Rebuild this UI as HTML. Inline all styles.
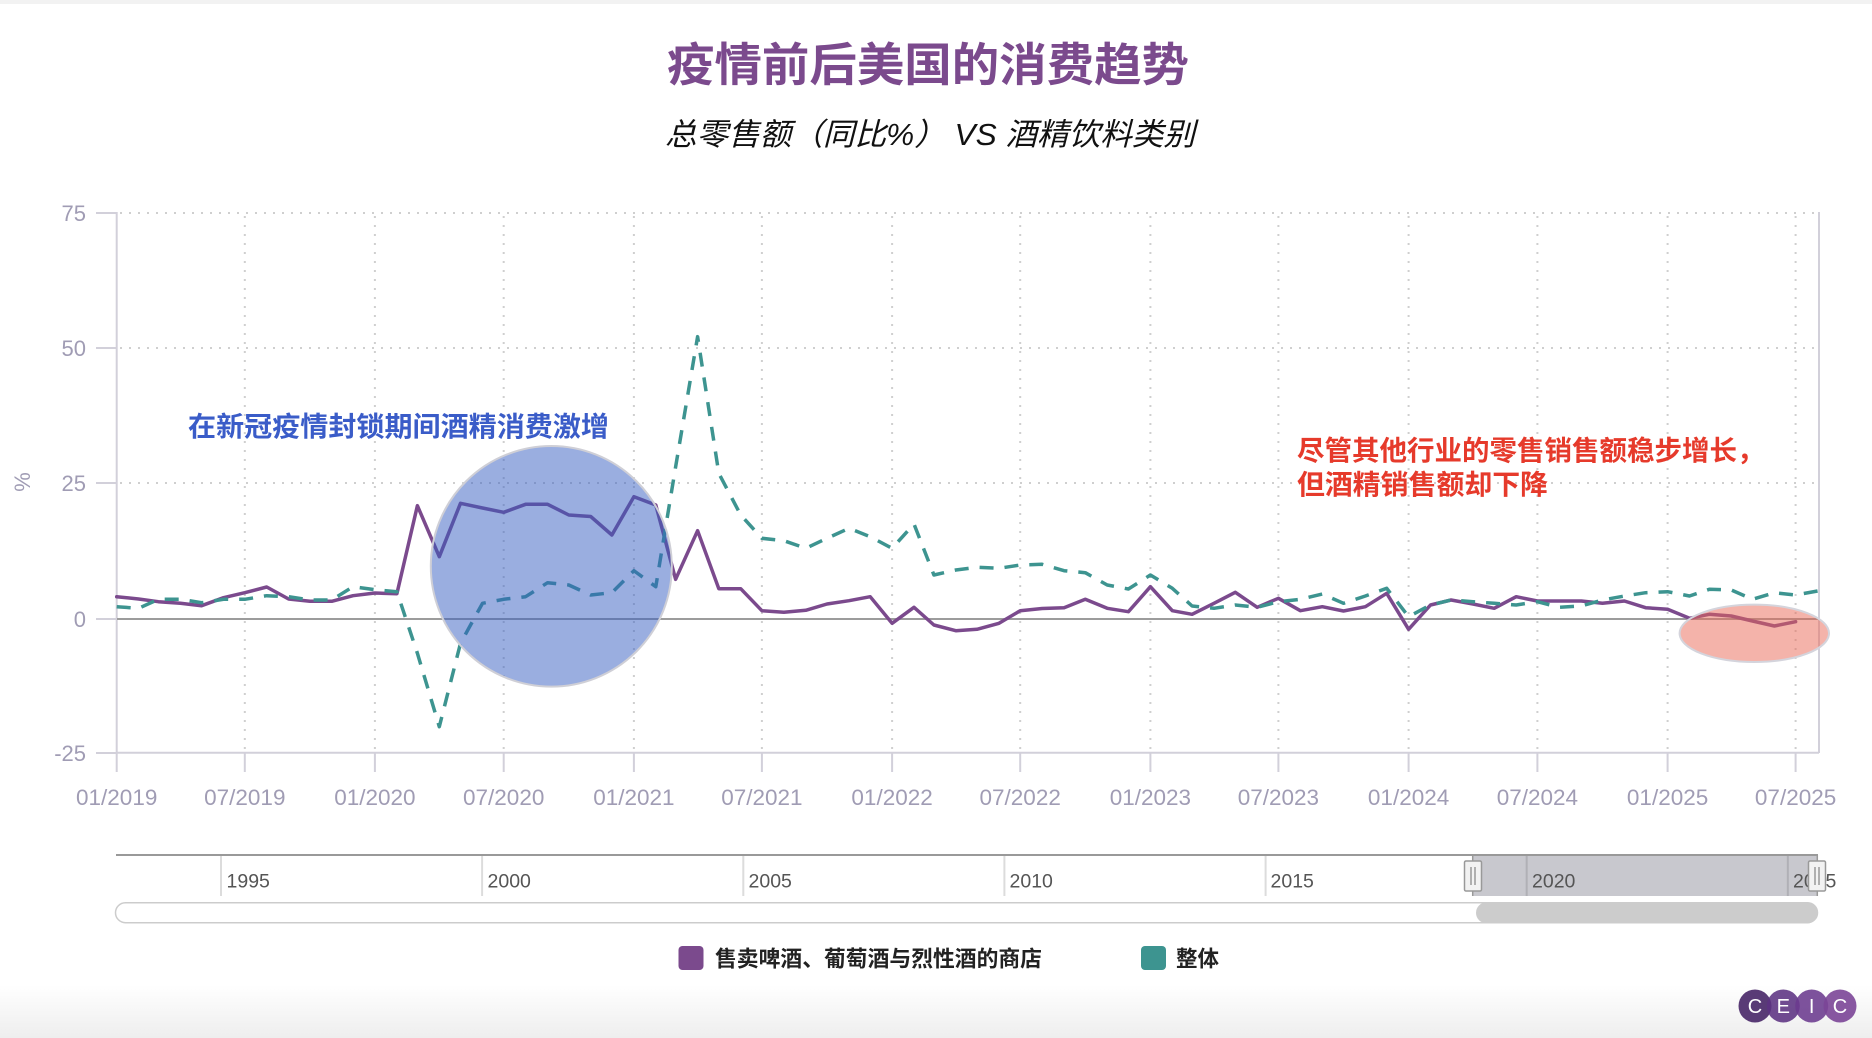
<!DOCTYPE html>
<html>
<head>
<meta charset="utf-8">
<style>
  html,body{margin:0;padding:0;background:#fff;}
  body{width:1872px;height:1038px;overflow:hidden;}
  svg{display:block;}
  .cjk{font-family:"Liberation Sans","Noto Sans CJK SC","WenQuanYi Zen Hei",sans-serif;}
  .lat{font-family:"Liberation Sans",sans-serif;}
</style>
</head>
<body>
<svg width="1872" height="1038" viewBox="0 0 1872 1038" xmlns="http://www.w3.org/2000/svg">
  <defs>
    <linearGradient id="bot" x1="0" y1="0" x2="0" y2="1">
      <stop offset="0" stop-color="#ffffff"/>
      <stop offset="1" stop-color="#eeeeee"/>
    </linearGradient>
  </defs>
  <rect x="0" y="0" width="1872" height="1038" fill="#fff"/>
  <rect x="0" y="0" width="1872" height="4" fill="#f2f2f2"/>
  <rect x="0" y="985" width="1872" height="53" fill="url(#bot)"/>

  <!-- Titles -->
  <text class="cjk" x="667" y="81" font-size="46" font-weight="bold" fill="#7b4a8d" textLength="522" lengthAdjust="spacingAndGlyphs">疫情前后美国的消费趋势</text>
  <text class="cjk" x="665" y="145" font-size="31" font-style="italic" fill="#111" textLength="530" lengthAdjust="spacingAndGlyphs">总零售额（同比%） VS 酒精饮料类别</text>

  <!-- Grid horizontal dotted -->
  <g stroke="#cfcfcf" stroke-width="2" stroke-dasharray="2 7" fill="none">
    <line x1="120" y1="213" x2="1819" y2="213"/>
    <line x1="120" y1="348" x2="1819" y2="348"/>
    <line x1="120" y1="483" x2="1819" y2="483"/>
  </g>
  <!-- Grid vertical dotted -->
  <g stroke="#cfcfcf" stroke-width="2" stroke-dasharray="2 7" fill="none">
    <line x1="244.8" y1="216" x2="244.8" y2="752"/>
    <line x1="374.9" y1="216" x2="374.9" y2="752"/>
    <line x1="503.7" y1="216" x2="503.7" y2="752"/>
    <line x1="633.9" y1="216" x2="633.9" y2="752"/>
    <line x1="761.9" y1="216" x2="761.9" y2="752"/>
    <line x1="892.1" y1="216" x2="892.1" y2="752"/>
    <line x1="1020.2" y1="216" x2="1020.2" y2="752"/>
    <line x1="1150.4" y1="216" x2="1150.4" y2="752"/>
    <line x1="1278.4" y1="216" x2="1278.4" y2="752"/>
    <line x1="1408.6" y1="216" x2="1408.6" y2="752"/>
    <line x1="1537.4" y1="216" x2="1537.4" y2="752"/>
    <line x1="1667.6" y1="216" x2="1667.6" y2="752"/>
    <line x1="1795.6" y1="216" x2="1795.6" y2="752"/>
  </g>

  <!-- Axes -->
  <g stroke="#d2d0da" stroke-width="2" fill="none">
    <line x1="116.7" y1="212" x2="116.7" y2="772"/>
    <line x1="1819" y1="212" x2="1819" y2="753"/>
    <line x1="116" y1="752.7" x2="1819" y2="752.7"/>
    <line x1="96" y1="213" x2="117" y2="213"/>
    <line x1="96" y1="348" x2="117" y2="348"/>
    <line x1="96" y1="483" x2="117" y2="483"/>
    <line x1="96" y1="619" x2="117" y2="619"/>
    <line x1="96" y1="753" x2="117" y2="753"/>
    <line x1="244.8" y1="752" x2="244.8" y2="772"/>
    <line x1="374.9" y1="752" x2="374.9" y2="772"/>
    <line x1="503.7" y1="752" x2="503.7" y2="772"/>
    <line x1="633.9" y1="752" x2="633.9" y2="772"/>
    <line x1="761.9" y1="752" x2="761.9" y2="772"/>
    <line x1="892.1" y1="752" x2="892.1" y2="772"/>
    <line x1="1020.2" y1="752" x2="1020.2" y2="772"/>
    <line x1="1150.4" y1="752" x2="1150.4" y2="772"/>
    <line x1="1278.4" y1="752" x2="1278.4" y2="772"/>
    <line x1="1408.6" y1="752" x2="1408.6" y2="772"/>
    <line x1="1537.4" y1="752" x2="1537.4" y2="772"/>
    <line x1="1667.6" y1="752" x2="1667.6" y2="772"/>
    <line x1="1795.6" y1="752" x2="1795.6" y2="772"/>
  </g>
  <!-- zero line -->
  <line x1="117" y1="619" x2="1819" y2="619" stroke="#9c9c9c" stroke-width="2"/>

  <!-- Y labels -->
  <g class="lat" font-size="22" fill="#a09cb4" text-anchor="end">
    <text x="86" y="221">75</text>
    <text x="86" y="356">50</text>
    <text x="86" y="491">25</text>
    <text x="86" y="627">0</text>
    <text x="86" y="761">-25</text>
  </g>
  <text class="lat" font-size="22" fill="#a09cb4" text-anchor="middle" transform="translate(30,482) rotate(-90)">%</text>

  <!-- X labels -->
  <g class="lat" font-size="22.5" fill="#a09cb4" text-anchor="middle">
    <text x="116.7" y="805">01/2019</text>
    <text x="244.8" y="805">07/2019</text>
    <text x="374.9" y="805">01/2020</text>
    <text x="503.7" y="805">07/2020</text>
    <text x="633.9" y="805">01/2021</text>
    <text x="761.9" y="805">07/2021</text>
    <text x="892.1" y="805">01/2022</text>
    <text x="1020.2" y="805">07/2022</text>
    <text x="1150.4" y="805">01/2023</text>
    <text x="1278.4" y="805">07/2023</text>
    <text x="1408.6" y="805">01/2024</text>
    <text x="1537.4" y="805">07/2024</text>
    <text x="1667.6" y="805">01/2025</text>
    <text x="1795.6" y="805">07/2025</text>
  </g>

  <!-- Purple series -->
  <polyline fill="none" stroke="#7b4a8d" stroke-width="3.5" stroke-linejoin="round" stroke-linecap="round"
    points="116.7,596.7 138.6,599 158.4,601.7 180.4,603.3 201.6,605.7 223.5,597.7 244.8,592.7 266.7,587 288.6,599 309.9,601.3 331.8,601.3 353,595.7 374.9,593 396.9,593.7 417.4,505.7 439.3,556.7 460.5,503.3 482.5,508 503.7,512.3 525.6,504.3 547.6,504.3 568.8,515 590.7,516.5 611.9,535 633.9,496.7 655.8,505 675.6,579.3 697.6,530.7 718.8,588.7 740.7,588.7 761.9,610.7 783.9,612.3 805.8,610.3 827,604 849,600.7 870.2,596.7 892.1,623.3 914,607.3 933.9,625 955.8,630.7 977,629.3 999,623.3 1020.2,610.7 1042.1,608.5 1064.1,607.7 1085.3,599.3 1107.2,608.3 1128.4,611.7 1150.4,586.7 1172.3,610.7 1192.1,614.3 1214,603.3 1235.3,592.3 1257.2,607.3 1278.4,598.3 1300.4,610.7 1322.3,606.7 1343.5,611 1365.4,606.7 1386.7,593.3 1408.6,629.3 1430.5,605 1451.1,600 1473,604 1494.2,608.3 1516.2,596.7 1537.4,601 1559.3,601 1581.3,601 1602.5,603.3 1624.4,601 1645.6,607.7 1667.6,609.3 1689.5,618.3 1709.3,614.3 1731.3,616 1752.5,621 1774.4,626 1795.6,621.7"/>

  <!-- Teal series -->
  <polyline fill="none" stroke="#3d9490" stroke-width="3.5" stroke-linejoin="round" stroke-dasharray="14 11"
    points="116.7,606.7 138.6,608.3 158.4,599.3 180.4,599.3 201.6,602.7 223.5,599.3 244.8,599.3 266.7,595.7 288.6,596.7 309.9,600 331.8,600 353,586.7 374.9,589.7 396.9,591.7 417.4,653.3 439.3,726.7 460.5,643.3 482.5,603.3 503.7,599.3 525.6,596.7 547.6,582.7 568.8,585 590.7,595 611.9,592.7 633.9,570.7 655.8,586.7 675.6,467 697.6,336.7 718.8,473.3 740.7,515 761.9,538.3 783.9,540.7 805.8,548.3 827,538.3 849,528.3 870.2,536.7 892.1,548.3 914,524 933.9,575 955.8,570 977,567.3 999,568.3 1020.2,565 1042.1,564.3 1064.1,570.7 1085.3,572.7 1107.2,585 1128.4,589 1150.4,575 1172.3,588.3 1192.1,606 1214,608.3 1235.3,605 1257.2,607.3 1278.4,601.7 1300.4,599.3 1322.3,594 1343.5,603.3 1365.4,596 1386.7,588.3 1408.6,616.7 1430.5,605 1451.1,600 1473,601.7 1494.2,603.3 1516.2,605 1537.4,601.7 1559.3,607.3 1581.3,606 1602.5,600 1624.4,596 1645.6,592.7 1667.6,591.7 1689.5,596 1709.3,589.3 1731.3,590 1752.5,599.3 1774.4,592.7 1795.6,595 1817.6,591"/>

  <!-- Highlight shapes -->
  <ellipse cx="551.3" cy="566.3" rx="120.5" ry="120.3" fill="rgb(53,93,193)" fill-opacity="0.5" stroke="#cfcfd6" stroke-width="2"/>
  <ellipse cx="1754.3" cy="633.3" rx="74.7" ry="28.7" fill="rgb(233,103,85)" fill-opacity="0.5" stroke="#d4d4dc" stroke-width="2"/>

  <!-- Annotations -->
  <text class="cjk" x="188" y="436" font-size="27.5" font-weight="bold" fill="#3a5cc8" textLength="421" lengthAdjust="spacingAndGlyphs">在新冠疫情封锁期间酒精消费激增</text>
  <text class="cjk" x="1297" y="460" font-size="27.5" font-weight="bold" fill="#e63a2b">尽管其他行业的零售销售额稳步增长，</text>
  <text class="cjk" x="1297" y="494" font-size="27.5" font-weight="bold" fill="#e63a2b" textLength="251" lengthAdjust="spacingAndGlyphs">但酒精销售额却下降</text>

  <!-- Navigator -->
  <rect x="1472.7" y="855" width="344.6" height="41" fill="#c8c8ce"/>
  <g stroke="#dcdcdc" stroke-width="2">
    <line x1="221" y1="855" x2="221" y2="896"/>
    <line x1="482.1" y1="855" x2="482.1" y2="896"/>
    <line x1="743.3" y1="855" x2="743.3" y2="896"/>
    <line x1="1004.4" y1="855" x2="1004.4" y2="896"/>
    <line x1="1265.6" y1="855" x2="1265.6" y2="896"/>
  </g>
  <g stroke="#b0b0b6" stroke-width="2">
    <line x1="1526.7" y1="855" x2="1526.7" y2="896"/>
    <line x1="1787.8" y1="855" x2="1787.8" y2="896"/>
  </g>
  <line x1="116" y1="855" x2="1818" y2="855" stroke="#999" stroke-width="2"/>
  <line x1="1472.7" y1="855" x2="1472.7" y2="896" stroke="#999" stroke-width="1.5"/>
  <line x1="1817.3" y1="855" x2="1817.3" y2="896" stroke="#999" stroke-width="1.5"/>
  <g class="lat" font-size="19.5" fill="#555">
    <text x="226.5" y="887.5">1995</text>
    <text x="487.5" y="887.5">2000</text>
    <text x="748.5" y="887.5">2005</text>
    <text x="1009.5" y="887.5">2010</text>
    <text x="1270.5" y="887.5">2015</text>
    <text x="1532" y="887.5">2020</text>
    <text x="1793" y="887.5">2025</text>
  </g>
  <!-- handles -->
  <g>
    <rect x="1464.5" y="861" width="17" height="30" rx="1.5" fill="#f2f2f2" stroke="#999" stroke-width="1.5"/>
    <line x1="1471" y1="867" x2="1471" y2="885" stroke="#999" stroke-width="1.5"/>
    <line x1="1475" y1="867" x2="1475" y2="885" stroke="#999" stroke-width="1.5"/>
    <rect x="1808.5" y="861" width="17" height="30" rx="1.5" fill="#f2f2f2" stroke="#999" stroke-width="1.5"/>
    <line x1="1815" y1="867" x2="1815" y2="885" stroke="#999" stroke-width="1.5"/>
    <line x1="1819" y1="867" x2="1819" y2="885" stroke="#999" stroke-width="1.5"/>
  </g>
  <!-- scrollbar -->
  <rect x="115.5" y="902.7" width="1702" height="20" rx="10" fill="#fff" stroke="#cccccc" stroke-width="1.5"/>
  <rect x="1476" y="902.3" width="341.7" height="21" rx="10.5" fill="#cccccc"/>

  <!-- Legend -->
  <rect x="678.5" y="946" width="25" height="24" rx="4" fill="#7b4a8d"/>
  <text class="cjk" x="715" y="966.5" font-size="22" font-weight="bold" fill="#222" textLength="327" lengthAdjust="spacingAndGlyphs">售卖啤酒、葡萄酒与烈性酒的商店</text>
  <rect x="1141" y="946" width="25" height="24" rx="4" fill="#3d9490"/>
  <text class="cjk" x="1176" y="966.5" font-size="22" font-weight="bold" fill="#222" textLength="43" lengthAdjust="spacingAndGlyphs">整体</text>

  <!-- CEIC logo -->
  <g>
    <circle cx="1755" cy="1006" r="16.5" fill="#4b2a6a" fill-opacity="0.92"/>
    <circle cx="1783.3" cy="1006" r="16.5" fill="#5c3282" fill-opacity="0.88"/>
    <circle cx="1811.7" cy="1006" r="16.5" fill="#6b3a8e" fill-opacity="0.88"/>
    <circle cx="1840" cy="1006" r="16.5" fill="#7b4597" fill-opacity="0.9"/>
    <g class="lat" font-size="20" fill="#fff" text-anchor="middle">
      <text x="1755" y="1013">C</text>
      <text x="1783.3" y="1013">E</text>
      <text x="1811.7" y="1013">I</text>
      <text x="1840" y="1013">C</text>
    </g>
  </g>
</svg>
</body>
</html>
